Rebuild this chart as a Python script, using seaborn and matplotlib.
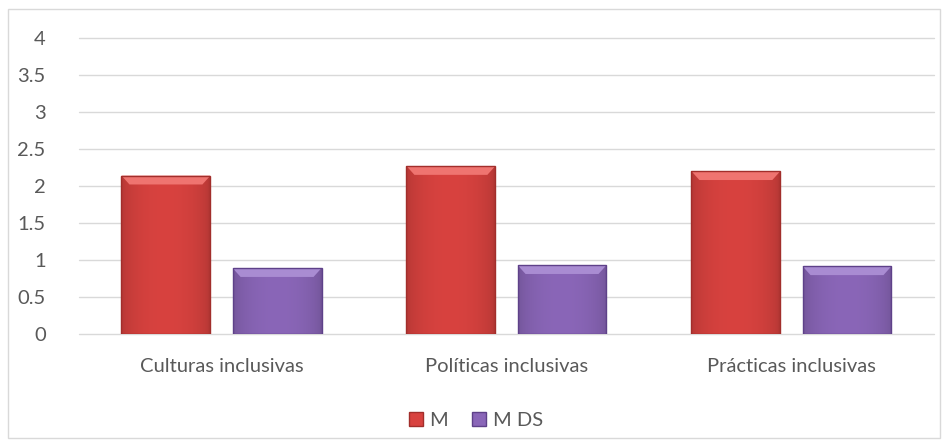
import numpy as np
import pandas as pd
import matplotlib.pyplot as plt
import seaborn as sns
from matplotlib.patches import Rectangle, Polygon
from matplotlib.colors import to_rgb

# Datos
categorias = ['Culturas inclusivas', 'Políticas inclusivas', 'Prácticas inclusivas']
valores_m = [2.14, 2.27, 2.20]
valores_mds = [0.89, 0.93, 0.915]
series = ['M', 'M DS']

df = pd.DataFrame({
    'categoria': categorias * 2,
    'serie': [series[0]] * 3 + [series[1]] * 3,
    'valor': valores_m + valores_mds,
})

sns.set_style('white')
plt.rcParams['font.family'] = ['Lato', 'DejaVu Sans']

fig = plt.figure(figsize=(9.52, 4.47), dpi=100)
ax = fig.add_axes([0.083, 0.253, 0.898, 0.662])

colores = {'M': '#D8423F', 'M DS': '#8A66B8'}
claros = {'M': '#EF7470', 'M DS': '#A98CD2'}
bordes = {'M': '#A22E2B', 'M DS': '#5E4189'}

sns.barplot(data=df, x='categoria', y='valor', hue='serie', palette=colores,
            width=0.78, gap=0.2, ax=ax, legend=False, saturation=1)

# efecto biselado aproximado
for i, p in enumerate(list(ax.patches)):
    s = series[0] if i < 3 else series[1]
    x0, w, h = p.get_x(), p.get_width(), p.get_height()
    base = np.array(to_rgb(colores[s]))
    t = np.linspace(0, 1, 60)
    f = 0.82 + 0.18 * np.sin(np.pi * t) ** 0.5
    grad = (base[None, :] * f[:, None])[None, :, :]
    im = ax.imshow(grad, extent=[x0, x0 + w, 0, h], aspect='auto', zorder=3,
                   interpolation='bilinear')
    im.set_clip_path(p)
    b = 0.12
    top = Polygon([[x0, h], [x0 + w, h], [x0 + w - w * 0.09, h - b], [x0 + w * 0.09, h - b]],
                  closed=True, facecolor=claros[s], edgecolor='none', zorder=4)
    ax.add_patch(top)
    p.set_facecolor('none')
    p.set_edgecolor(bordes[s])
    p.set_linewidth(1.0)
    p.set_zorder(5)

ax.set_xlim(-0.5, 2.5)
ax.set_ylim(0, 4)
ax.set_yticks([0, 0.5, 1, 1.5, 2, 2.5, 3, 3.5, 4])
ax.set_yticklabels(['0', '0.5', '1', '1.5', '2', '2.5', '3', '3.5', '4'])
ax.yaxis.grid(True, color='#D9D9D9', linewidth=1)
ax.set_axisbelow(True)
for g in ax.get_ygridlines():
    g.set_clip_on(False)
for sp in ax.spines.values():
    sp.set_visible(False)
ax.tick_params(axis='both', length=0, labelsize=14.5, colors='#595959')
ax.tick_params(axis='x', pad=17)
ax.tick_params(axis='y', pad=24)
ax.set_xlabel('')
ax.set_ylabel('')

# Leyenda
handles = [Rectangle((0, 0), 1, 1, facecolor=colores[s], edgecolor=bordes[s]) for s in series]
fig.legend(handles, series, loc='center', bbox_to_anchor=(0.5, 0.06), ncol=2,
           frameon=False, fontsize=14.5, handlelength=0.7, handleheight=0.7,
           handletextpad=0.3, columnspacing=1.2, labelcolor='#595959')

# Marco exterior del gráfico
fig.patches.append(Rectangle((8 / 952, 9 / 447), 932 / 952, 429 / 447, transform=fig.transFigure,
                             fill=False, edgecolor='#D9D9D9', linewidth=1))

fig.savefig('out.png', dpi=100, facecolor='white')
